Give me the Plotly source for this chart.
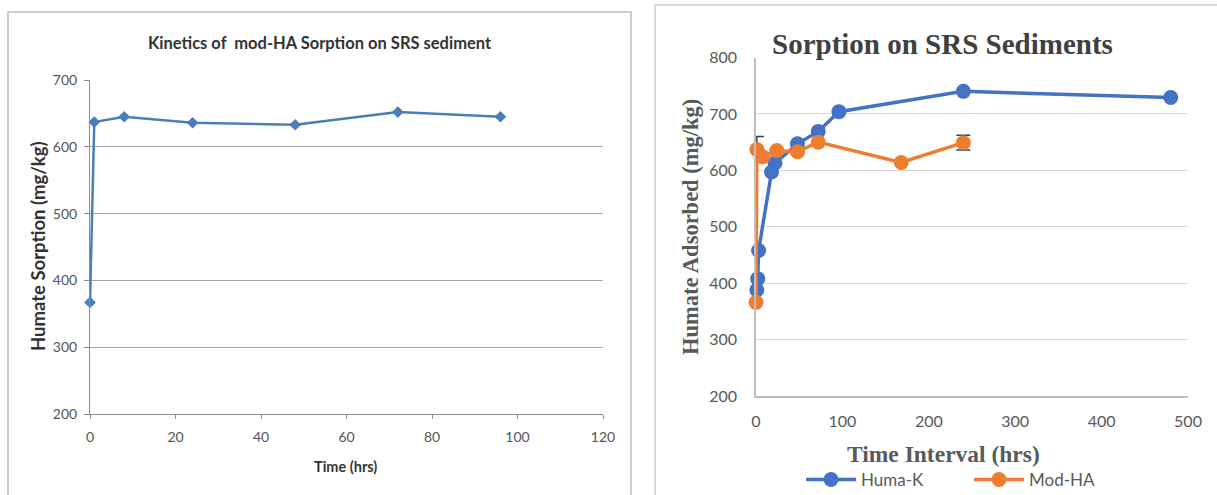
import plotly.graph_objects as go

# ---- Left panel: kinetics of mod-HA sorption ----
left_time = [0, 1, 8, 24, 48, 72, 96]
left_sorption = [367, 637, 645, 636, 633, 652, 645]

# ---- Right panel: sorption on SRS sediments ----
huma_time = [1, 2, 3, 18, 22, 48, 72, 96, 240, 480]
huma_ads = [388, 408, 458, 597, 613, 647, 669, 704, 740, 729]

mod_time = [0, 1, 8, 24, 48, 72, 168, 240]
mod_ads = [366, 637, 624, 635, 633, 650, 614, 649]
mod_err = [0, 23, 0, 0, 0, 0, 0, 13]

left_xticks = [0, 20, 40, 60, 80, 100, 120]
left_yticks = [200, 300, 400, 500, 600, 700]
right_xticks = [0, 100, 200, 300, 400, 500]
right_yticks = [200, 300, 400, 500, 600, 700, 800]

W, H = 1217, 495


def px(x):
    return x / W


def py(y):
    return 1 - y / H


fig = go.Figure()

fig.add_trace(go.Scatter(
    x=left_time, y=left_sorption, mode="lines+markers",
    line=dict(color="#4a7ebb", width=2.5),
    marker=dict(symbol="diamond", size=9, color="#4a7ebb"),
    xaxis="x", yaxis="y", showlegend=False, cliponaxis=False,
))

fig.add_trace(go.Scatter(
    x=huma_time, y=huma_ads, mode="lines+markers", name="Huma-K",
    line=dict(color="#4472c4", width=3.5),
    marker=dict(symbol="circle", size=15, color="#4472c4"),
    xaxis="x2", yaxis="y2", cliponaxis=False,
))

fig.add_trace(go.Scatter(
    x=mod_time, y=mod_ads, mode="lines+markers", name="Mod-HA",
    line=dict(color="#ed7d31", width=3.5),
    marker=dict(symbol="circle", size=15, color="#ed7d31"),
    error_y=dict(type="data", array=mod_err, visible=True,
                 color="#404040", thickness=1.5, width=7),
    xaxis="x2", yaxis="y2", cliponaxis=False,
))

tick_font_left = dict(family="Lato", size=14, color="#555555")
tick_font_right = dict(family="Lato", size=16, color="#595959")

fig.update_layout(
    width=W, height=H,
    margin=dict(l=0, r=0, t=0, b=0, autoexpand=False),
    paper_bgcolor="white", plot_bgcolor="white",
    xaxis=dict(
        domain=[px(90), px(603)], anchor="y", range=[0, 120],
        tickvals=left_xticks, showgrid=False, zeroline=False,
        showline=True, linecolor="#8c8c8c", linewidth=1,
        ticks="outside", ticklen=4, tickcolor="#8c8c8c",
        tickfont=tick_font_left, ticklabelstandoff=6, automargin=False,
    ),
    yaxis=dict(
        domain=[py(414), py(80)], anchor="x", range=[200, 700],
        tickvals=left_yticks, showgrid=True, gridcolor="#a6a6a6",
        gridwidth=1, zeroline=False,
        showline=True, linecolor="#8c8c8c", linewidth=1,
        ticks="outside", ticklen=5, tickcolor="#8c8c8c",
        tickfont=tick_font_left, ticklabelstandoff=4, automargin=False,
    ),
    xaxis2=dict(
        domain=[px(756), px(1188)], anchor="y2", range=[0, 500],
        tickvals=right_xticks, showgrid=False, zeroline=False,
        showline=True, linecolor="#bfbfbf", linewidth=1.5,
        ticks="", tickfont=tick_font_right, ticklabelstandoff=10,
        automargin=False,
    ),
    yaxis2=dict(
        domain=[py(396), py(57.5)], anchor="x2", range=[200, 800],
        tickvals=right_yticks, showgrid=True, gridcolor="#d9d9d9",
        gridwidth=1, zeroline=False,
        showline=True, linecolor="#bfbfbf", linewidth=1.5,
        ticks="", tickfont=tick_font_right, ticklabelstandoff=14,
        automargin=False,
    ),
    legend=dict(
        orientation="h", x=px(969), xanchor="center",
        y=py(480), yanchor="middle",
        font=dict(family="Lato", size=17, color="#595959"),
        itemwidth=50, entrywidth=103, bgcolor="rgba(0,0,0,0)",
    ),
    shapes=[
        dict(type="rect", xref="paper", yref="paper",
             x0=px(8), x1=px(631), y0=-0.05, y1=py(12),
             line=dict(color="#bdbdbd", width=1.5), layer="below"),
        dict(type="rect", xref="paper", yref="paper",
             x0=px(655), x1=1.05, y0=-0.05, y1=py(5),
             line=dict(color="#d0d0d0", width=1.5), layer="below"),
    ],
    annotations=[
        dict(text="<b>Kinetics of  mod-HA Sorption on SRS sediment</b>",
             xref="paper", yref="paper", x=px(320), y=py(43),
             xanchor="center", yanchor="middle", showarrow=False,
             font=dict(family="Lato", size=16.5, color="#333333")),
        dict(text="<b>Humate Sorption (mg/kg)</b>",
             xref="paper", yref="paper", x=px(38), y=py(246),
             xanchor="center", yanchor="middle", showarrow=False,
             textangle=-90,
             font=dict(family="Lato", size=18.5, color="#333333")),
        dict(text="<b>Time (hrs)</b>",
             xref="paper", yref="paper", x=px(345), y=py(466),
             xanchor="center", yanchor="middle", showarrow=False,
             font=dict(family="Lato", size=14.5, color="#333333")),
        dict(text="<b>Sorption on SRS Sediments</b>",
             xref="paper", yref="paper", x=px(942), y=py(44),
             xanchor="center", yanchor="middle", showarrow=False,
             font=dict(family="Liberation Serif", size=29, color="#404040")),
        dict(text="<b>Humate Adsorbed (mg/kg)</b>",
             xref="paper", yref="paper", x=px(690), y=py(227),
             xanchor="center", yanchor="middle", showarrow=False,
             textangle=-90,
             font=dict(family="Liberation Serif", size=22.5, color="#595959")),
        dict(text="<b>Time Interval (hrs)</b>",
             xref="paper", yref="paper", x=px(943), y=py(454),
             xanchor="center", yanchor="middle", showarrow=False,
             font=dict(family="Liberation Serif", size=23.5, color="#595959")),
    ],
)

fig.write_html("out.html")
